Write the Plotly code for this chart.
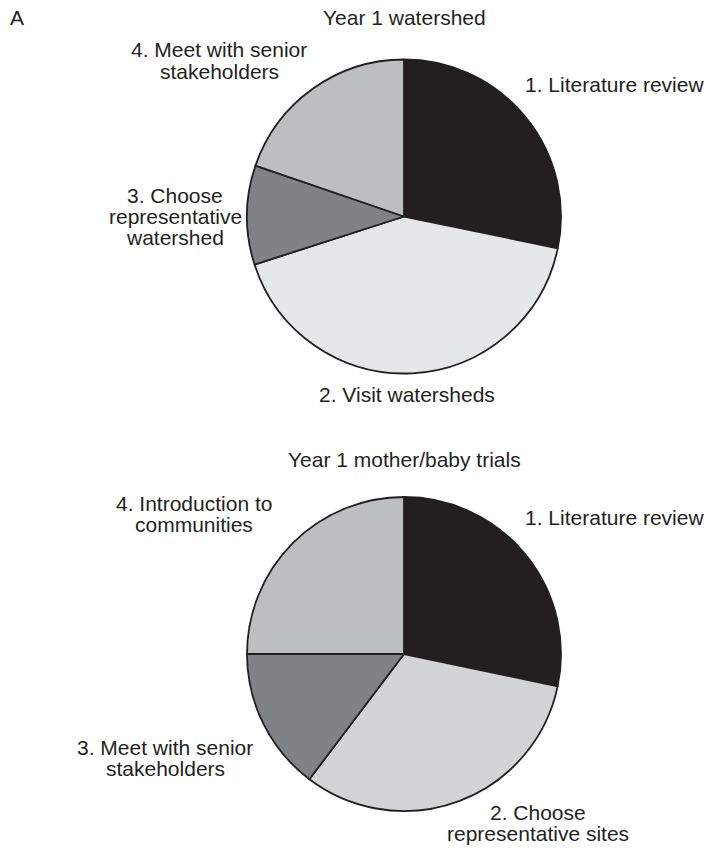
import plotly.graph_objects as go

W, H = 707, 854

# ---- data ----
top_title = "Year 1 watershed"
top_labels = ["1. Literature review", "2. Visit watersheds",
              "3. Choose representative watershed", "4. Meet with senior stakeholders"]
top_values = [28.25, 41.8, 10.2, 19.75]
top_colors = ["#231f20", "#e6e7e8", "#808285", "#bcbec0"]

bottom_title = "Year 1 mother/baby trials"
bottom_labels = ["1. Literature review", "2. Choose representative sites",
                 "3. Meet with senior stakeholders", "4. Introduction to communities"]
bottom_values = [28.3, 32.0, 14.7, 25.0]
bottom_colors = ["#231f20", "#d1d3d4", "#808285", "#bcbec0"]

top_label_lines = [["1. Literature review"], ["2. Visit watersheds"],
                   ["3. Choose", "representative", "watershed"],
                   ["4. Meet with senior", "stakeholders"]]
bottom_label_lines = [["1. Literature review"], ["2. Choose", "representative sites"],
                      ["3. Meet with senior", "stakeholders"],
                      ["4. Introduction to", "communities"]]

# ---- layout helpers (pixel positions) ----
FONT = "Liberation Sans, Arial, Helvetica, sans-serif"
FS = 21
R = 157
LINE = 21.5

def px(x):
    return x / W

def py(y):
    return 1 - y / H

def dom(cx, cy, r):
    return dict(x=[px(cx - r), px(cx + r)], y=[py(cy + r), py(cy - r)])

fig = go.Figure()
fig.add_trace(go.Pie(labels=top_labels, values=top_values, sort=False, direction="clockwise",
                     rotation=0, textinfo="none", hoverinfo="label+percent",
                     marker=dict(colors=top_colors, line=dict(color="#231f20", width=1.8)),
                     domain=dom(404, 216.5, R), showlegend=False))
fig.add_trace(go.Pie(labels=bottom_labels, values=bottom_values, sort=False, direction="clockwise",
                     rotation=0, textinfo="none", hoverinfo="label+percent",
                     marker=dict(colors=bottom_colors, line=dict(color="#231f20", width=1.8)),
                     domain=dom(404, 654, R), showlegend=False))

ann = []
def txt(s, x, y, anchor="center"):
    ann.append(dict(text=s, x=px(x), y=py(y), xref="paper", yref="paper",
                    xanchor=anchor, yanchor="middle", showarrow=False,
                    font=dict(family=FONT, size=FS, color="#231f20")))

def block(lines, cx, cy_first, anchor="center"):
    for i, s in enumerate(lines):
        txt(s, cx, cy_first + i * LINE, anchor)

txt("A", 8, 17, "left")
txt(top_title, 404, 17)
txt(bottom_title, 404, 459)

top_pos = [(523, 84, "left"), (407, 394, "center"), (175, 195, "center"), (219, 50, "center")]
bottom_pos = [(523, 517, "left"), (538, 812, "center"), (165, 747, "center"), (194, 503, "center")]
for lines, (x, y, a) in zip(top_label_lines, top_pos):
    block(lines, x, y, a)
for lines, (x, y, a) in zip(bottom_label_lines, bottom_pos):
    block(lines, x, y, a)

fig.update_layout(width=W, height=H, margin=dict(l=0, r=0, t=0, b=0),
                  paper_bgcolor="white", plot_bgcolor="white", annotations=ann)
fig.write_html("out.html", config={"displayModeBar": False},
               post_script="document.body.style.margin='0';document.body.style.overflow='hidden';")
